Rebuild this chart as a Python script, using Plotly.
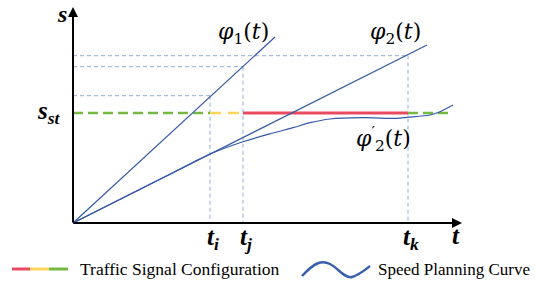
import plotly.graph_objects as go

# ---------------- data (t, s units) ----------------
phi1_t = [0, 202]
phi1_s = [0, 186]
phi2_t = [0, 354]
phi2_s = [0, 178]

curve_t = [0, 60, 100, 137, 170, 200, 220, 237, 257, 290, 324, 334, 357, 367, 380]
curve_s = [0, 30.2, 50.3, 69, 81.3, 90, 95.3, 100.3, 104, 105.3, 104.7, 105.7, 108, 111.3, 118]

key_times = [137, 170, 335]          # t_i, t_j, t_k
key_levels = [127.3, 156.3, 167.3]   # phi(t_i), phi(t_j), phi(t_k)
time_labels = ["t<sub>i</sub>", "t<sub>j</sub>", "t<sub>k</sub>"]

s_st = 110
sig_start = [0, 137, 170, 335]
sig_end = [137, 170, 335, 377]
sig_color = ["#76b843", "#ffd45a", "#e84a5f", "#76b843"]
sig_dash = ["10px,5px", "11px,7px", "solid", "10px,5px"]

t_max, s_max = 389, 216

BLUE = "#3559a8"
GUIDE = "#92acdc"
SERIF = "Liberation Serif"
MATH = "DejaVu Serif"

# pixel helpers (axes origin at pixel (73,223))
def PX(x): return x - 73
def PY(y): return 223 - y

fig = go.Figure()

# guide lines
for t, lv in zip(key_times, key_levels):
    fig.add_trace(go.Scatter(x=[0, t], y=[lv, lv], mode="lines",
                             line=dict(color=GUIDE, width=1, dash="4px,3px"),
                             hoverinfo="skip", showlegend=False))
    fig.add_trace(go.Scatter(x=[t, t], y=[lv, 0], mode="lines",
                             line=dict(color=GUIDE, width=1, dash="4px,3px"),
                             hoverinfo="skip", showlegend=False))

# signal configuration
for a, b, c, d in zip(sig_start, sig_end, sig_color, sig_dash):
    fig.add_trace(go.Scatter(x=[a, b], y=[s_st, s_st], mode="lines",
                             line=dict(color=c, width=3 if d == "solid" else 2.5, dash=d),
                             hoverinfo="skip", showlegend=False))

# phi lines and curve
for xs, ys in [(phi1_t, phi1_s), (phi2_t, phi2_s)]:
    fig.add_trace(go.Scatter(x=xs, y=ys, mode="lines", line=dict(color=BLUE, width=1.2),
                             hoverinfo="skip", showlegend=False))
fig.add_trace(go.Scatter(x=curve_t, y=curve_s, mode="lines",
                         line=dict(color=BLUE, width=1.2, shape="spline", smoothing=0.8),
                         hoverinfo="skip", showlegend=False))

ann = []
# axes arrows
ann.append(dict(x=0, y=s_max, ax=0, ay=-1, xref="x", yref="y", axref="x", ayref="y",
                text="", showarrow=True, arrowhead=2, arrowsize=1, arrowwidth=2, arrowcolor="black"))
ann.append(dict(x=t_max, y=0, ax=-1, ay=0, xref="x", yref="y", axref="x", ayref="y",
                text="", showarrow=True, arrowhead=2, arrowsize=1, arrowwidth=2, arrowcolor="black"))

def F(size, fam=SERIF):
    return dict(family=fam, size=size, color="black")

ann.append(dict(x=PX(62), y=PY(14), text="<b><i>s</i></b>", showarrow=False, font=F(24)))
ann.append(dict(x=PX(49), y=PY(112), text="<b><i>s<sub>st</sub></i></b>", showarrow=False, font=F(25)))
for t, lab in zip(key_times, time_labels):
    ann.append(dict(x=t + 3, y=PY(238), text=f"<b><i>{lab}</i></b>", showarrow=False, font=F(25)))
ann.append(dict(x=PX(456), y=PY(235), text="<b><i>t</i></b>", showarrow=False, font=F(25)))

ann.append(dict(x=PX(243), y=PY(33), text="<i>φ</i><sub>1</sub>(<i>t</i>)", showarrow=False, font=F(22, MATH)))
ann.append(dict(x=PX(395), y=PY(33), text="<i>φ</i><sub>2</sub>(<i>t</i>)", showarrow=False, font=F(22, MATH)))
ann.append(dict(x=PX(383), y=PY(139), text="<i>φ</i><sup>′</sup><sub>2</sub>(<i>t</i>)",
                showarrow=False, font=F(22, MATH)))

# legend
ann.append(dict(x=PX(78), y=PY(269), text="Traffic Signal Configuration", showarrow=False,
                xanchor="left", font=F(17.5)))
ann.append(dict(x=PX(376), y=PY(269), text="Speed Planning Curve", showarrow=False,
                xanchor="left", font=F(17)))

shapes = []
for (a, b), c in zip([(12, 30), (30, 49), (49, 68)], ["#e84a5f", "#ffd45a", "#76b843"]):
    shapes.append(dict(type="line", xref="x", yref="y", x0=PX(a), x1=PX(b), y0=PY(269), y1=PY(269),
                       line=dict(color=c, width=3)))
pts = [(302, 276), (315, 262), (322, 260), (330, 264), (345, 279), (352, 277), (365, 270), (370, 266)]
p = [f"{PX(x)},{PY(y)}" for x, y in pts]
path = f"M {p[0]} C {p[1]} {p[2]} {p[3]} S {p[4]} {p[5]} S {p[6]} {p[7]}"
shapes.append(dict(type="path", xref="x", yref="y", path=path, line=dict(color="#3a5fb0", width=2.5)))

fig.update_layout(
    width=535, height=287, margin=dict(l=0, r=0, t=0, b=0), autosize=False,
    paper_bgcolor="white", plot_bgcolor="white", font=dict(family=SERIF),
    xaxis=dict(range=[-73, 462], visible=False, fixedrange=True),
    yaxis=dict(range=[-64, 223], visible=False, fixedrange=True),
    annotations=ann, shapes=shapes, showlegend=False,
)
fig.write_html("out.html", config={"displayModeBar": False},
               post_script="document.body.style.margin='0px';document.body.style.padding='0px';")
